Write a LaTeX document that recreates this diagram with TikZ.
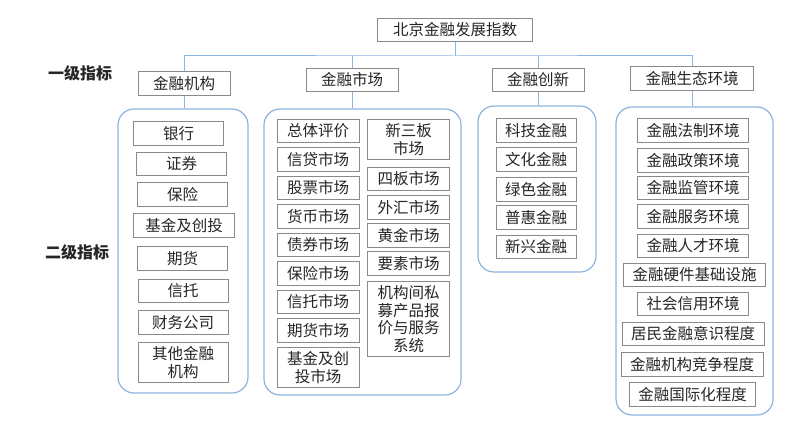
\documentclass[tikz,border=0pt]{standalone}
\usepackage{fontspec}
\setmainfont{Noto Sans CJK SC}
\usepackage{tikz}
\usetikzlibrary{positioning}
\usepackage{xcolor}
\definecolor{linkblue}{HTML}{8DB6E2}
\definecolor{groupblue}{HTML}{8CB4E0}
\definecolor{boxgray}{HTML}{8A8A8A}
\definecolor{textdark}{HTML}{262626}

\begin{document}
\begin{tikzpicture}[
    x=1pt, y=-1pt,
    idxbox/.style={
      draw=boxgray, line width=0.9pt, fill=white,
      font=\fontsize{15.5}{17.5}\selectfont, text=textdark,
      align=center, inner ysep=4pt, inner xsep=#1, minimum height=23.5pt
    },
    idxbox/.default=6pt,
    grp/.style={
      draw=groupblue, line width=1.2pt, rounded corners=16pt
    },
    link/.style={draw=linkblue, line width=1pt},
    lvl/.style={font=\fontsize{16}{18}\selectfont\bfseries, text=textdark},
  ]
  \useasboundingbox (0,0) rectangle (810,436);

  % =================== Root and level 1 ===================
  \node[idxbox=15.5pt] (root) at (455, 30) {北京金融发展指数};

  \node[idxbox=15pt] (inst) at (184, 83.5) {金融机构};
  \node[idxbox=15pt] (mkt)  at (352, 80)   {金融市场};
  \node[idxbox=15pt] (innov) at (538, 80)  {金融创新};
  \node[idxbox=15pt] (eco)  at (692, 78.5) {金融生态环境};

  \node[lvl] (lvlone) at (80, 73)  {一级指标};
  \node[lvl] (lvltwo) at (77, 252) {二级指标};

  % bus line
  \coordinate (bus) at (455, 56);
  \draw[link] (root.south) -- (bus);
  \draw[link] (inst.north) |- (bus) -| (eco.north);
  \draw[link] (mkt.north) -- (mkt.north |- bus);
  \draw[link] (innov.north) -- (innov.north |- bus);

  % =================== Groups ===================
  \node[grp, minimum width=130pt, minimum height=284pt] (ginst) at (183, 251) {};
  \node[grp, minimum width=197pt, minimum height=286pt] (gmkt) at (362.5, 252) {};
  \node[grp, minimum width=118pt, minimum height=166pt] (ginnov) at (537, 189) {};
  \node[grp, minimum width=157pt, minimum height=308pt] (geco) at (694.5, 261) {};

  \draw[link] (inst.south) -- (inst.south |- ginst.north);
  \draw[link] (mkt.south) -- (mkt.south |- gmkt.north);
  \draw[link] (innov.south) -- (innov.south |- ginnov.north);
  \draw[link] (eco.south) -- (eco.south |- geco.north);

  % =================== Column 1: institutions ===================
  \begin{scope}[every node/.append style={idxbox=12pt, minimum width=90pt}]
    \node (bank)  at (178.5, 133.5) {银行};
    \node (sec)   at (181.5, 164)   {证券};
    \node (ins)   at (182.5, 194.5) {保险};
    \node (fund)  at (184, 225.5)   {基金及创投};
    \node (fut)   at (182.5, 258.5) {期货};
    \node (trust) at (183, 291)     {信托};
    \node (fin)   at (183, 322.5)   {财务公司};
    \node (other) at (183, 362.5)   {其他金融\\机构};
  \end{scope}

  % =================== Column 2: markets ===================
  \begin{scope}[every node/.append style={idxbox=6pt, minimum width=82pt}]
    \node (overall) at (318, 131)   {总体评价};
    \node (credit)  at (318, 159.5) {信贷市场};
    \node (stock)   at (318, 188)   {股票市场};
    \node (money)   at (318, 216.5) {货币市场};
    \node (bond)    at (318, 245)   {债券市场};
    \node (insm)    at (318, 273.5) {保险市场};
    \node (trustm)  at (318, 302)   {信托市场};
    \node (futm)    at (318, 330.5) {期货市场};
    \node (fundm)   at (318, 367.5) {基金及创\\投市场};

    \node (neeq)    at (408.5, 139.5) {新三板\\市场};
    \node (fourth)  at (408.5, 179)   {四板市场};
    \node (forex)   at (408.5, 207.5) {外汇市场};
    \node (gold)    at (408.5, 235.5) {黄金市场};
    \node (factor)  at (408.5, 263.5) {要素市场};
    \node (private) at (408.5, 319)   {机构间私\\募产品报\\价与服务\\系统};
  \end{scope}

  % =================== Column 3: innovation ===================
  \begin{scope}[every node/.append style={idxbox=6pt, minimum width=80pt}]
    \node (tech)  at (536, 130.5) {科技金融};
    \node (cult)  at (536, 159.5) {文化金融};
    \node (green) at (536, 189.5) {绿色金融};
    \node (incl)  at (536, 217.5) {普惠金融};
    \node (emerg) at (536, 247)   {新兴金融};
  \end{scope}

  % =================== Column 4: ecology ===================
  \begin{scope}[every node/.append style={idxbox=9pt}]
    \node (legal)  at (693, 130.5)   {金融法制环境};
    \node (policy) at (693, 160.5)   {金融政策环境};
    \node (superv) at (693, 188)     {金融监管环境};
    \node (serv)   at (693, 216.5)   {金融服务环境};
    \node (talent) at (693, 246)     {金融人才环境};
    \node (infra)  at (694.5, 275)   {金融硬件基础设施};
    \node (credsc) at (693, 304)     {社会信用环境};
    \node (aware)  at (693, 334)     {居民金融意识程度};
    \node (compet) at (692, 364.5)   {金融机构竞争程度};
    \node (intl)   at (692.5, 394.5) {金融国际化程度};
  \end{scope}

\end{tikzpicture}
\end{document}
